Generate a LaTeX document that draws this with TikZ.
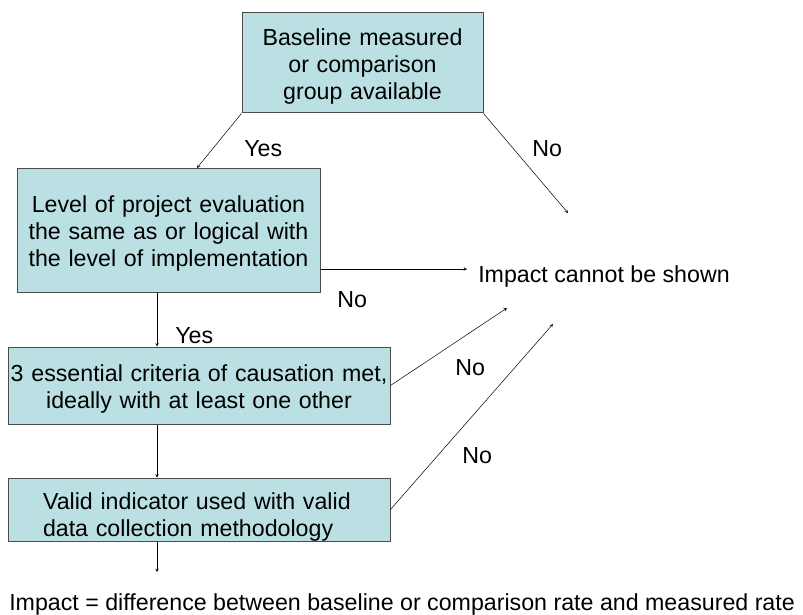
\documentclass[tikz,border=0pt]{standalone}
\usepackage{fontspec}
\setmainfont{Liberation Sans}
\usetikzlibrary{positioning}
\definecolor{boxfill}{RGB}{187,224,227}
\definecolor{boxline}{RGB}{75,75,75}
\begin{document}
\begin{tikzpicture}[x=1pt, y=-1pt, >=stealth, line width=0.5pt,
    every node/.style={font=\fontsize{23.2}{27}\selectfont, inner sep=0pt},
    box/.style={draw=boxline, fill=boxfill, line width=1pt, rectangle, align=center, text height=24pt},
    lbl/.style={anchor=base west}]
	\useasboundingbox (0,0) rectangle (803,615);
	
	% 判断框
	\node[box, text width=239pt, minimum width=241pt, minimum height=100pt] (base) at (362.5,63) {Baseline measured\\or comparison\\group available};
	\node[box, text width=301pt, minimum width=303pt, minimum height=124pt] (level) at (168.5,230) {Level of project evaluation\\the same as or logical with\\the level of implementation};
	\node[box, text width=380pt, minimum width=382pt, minimum height=77pt] (crit) at (199,385.5) {3 essential criteria of causation met,\\ideally with at least one other};
	\node[box, align=left, text width=312pt, text height=31pt, minimum width=382pt, minimum height=63pt] (valid) at (199,509.5) {Valid indicator used with valid\\data collection methodology};
	
	% 结果
	\node[lbl] (nope) at (478,282) {Impact cannot be shown};
	\node[lbl] (impact) at (9,610) {Impact = difference between baseline or comparison rate and measured rate};
	
	% 箭头端点
	\coordinate (spine) at (157,0);
	\coordinate (tipA) at (197,168);
	\coordinate (tipB) at (568,213);
	\coordinate (tipC) at (467,269);
	\coordinate (tipD) at (507,308);
	\coordinate (tipE) at (553,324);
	\coordinate (tipF) at (157,572);
	
	% 连线
	\draw[->] (base.south west) -- (tipA);
	\draw[->] (base.south east) -- (tipB);
	\draw[->] (level.east |- tipC) -- (tipC);
	\draw[->] (level.south -| spine) -- (crit.north -| spine);
	\draw[->] (crit.east) -- (tipD);
	\draw[->] (crit.south -| spine) -- (valid.north -| spine);
	\draw[->] (valid.east) -- (tipE);
	\draw[->] (valid.south -| spine) -- (tipF);
	
	% 标签
	\node[lbl] (yes1) at (244,157) {Yes};
	\node[lbl] (no1) at (532,157) {No};
	\node[lbl] (no2) at (337,307) {No};
	\node[lbl] (yes2) at (175,343) {Yes};
	\node[lbl] (no3) at (455,375) {No};
	\node[lbl] (no4) at (462,463) {No};
\end{tikzpicture}
\end{document}
